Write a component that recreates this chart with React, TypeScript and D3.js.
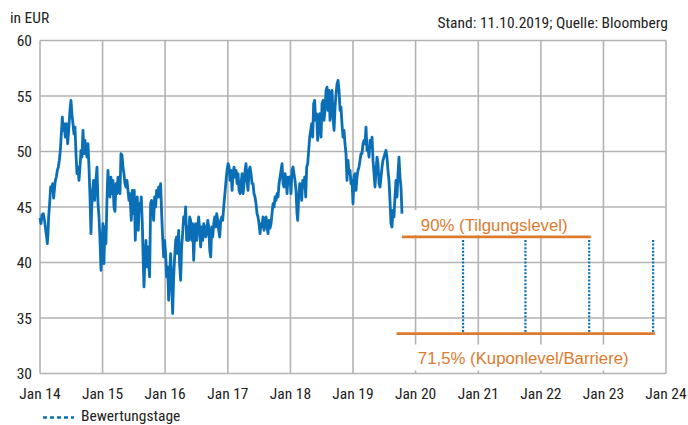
import React from "react";
import * as d3 from "d3";

// ---- Data ----
// Share price history: [decimal year, price in EUR]
const priceHistory: [number, number][] = [
  [2014.000, 44.0], [2014.016, 43.5], [2014.032, 44.3], [2014.053, 44.4], [2014.075, 43.7], [2014.091, 42.9],
  [2014.106, 42.3], [2014.117, 41.7], [2014.128, 42.6], [2014.138, 44.1], [2014.154, 45.3], [2014.170, 46.8],
  [2014.186, 46.5], [2014.202, 47.1], [2014.218, 45.8], [2014.229, 46.5], [2014.245, 47.4], [2014.261, 47.7],
  [2014.277, 48.3], [2014.293, 48.6], [2014.309, 49.2], [2014.325, 50.1], [2014.341, 51.6], [2014.357, 53.1],
  [2014.367, 51.9], [2014.383, 52.5], [2014.405, 51.3], [2014.421, 52.5], [2014.442, 50.7], [2014.458, 51.9],
  [2014.479, 53.7], [2014.495, 54.6], [2014.511, 53.3], [2014.527, 52.5], [2014.543, 51.6], [2014.559, 52.2],
  [2014.575, 49.8], [2014.591, 48.0], [2014.607, 48.6], [2014.623, 47.4], [2014.639, 48.6], [2014.655, 50.1],
  [2014.671, 49.5], [2014.687, 51.9], [2014.703, 49.8], [2014.719, 51.0], [2014.735, 50.1], [2014.751, 49.5],
  [2014.767, 50.7], [2014.783, 48.6], [2014.799, 45.9], [2014.815, 42.6], [2014.825, 44.7], [2014.841, 46.5],
  [2014.857, 47.4], [2014.873, 45.6], [2014.889, 47.1], [2014.911, 48.6], [2014.927, 45.3], [2014.943, 44.1],
  [2014.959, 42.0], [2014.975, 39.3], [2014.990, 41.4], [2015.006, 43.5], [2015.022, 39.9], [2015.038, 43.2],
  [2015.054, 41.7], [2015.070, 45.6], [2015.086, 48.3], [2015.102, 46.5], [2015.118, 45.9], [2015.134, 47.7],
  [2015.150, 46.2], [2015.166, 47.4], [2015.182, 45.0], [2015.198, 44.6], [2015.214, 47.1], [2015.230, 46.2],
  [2015.246, 47.7], [2015.262, 46.5], [2015.278, 46.2], [2015.294, 49.8], [2015.310, 49.7], [2015.326, 48.6],
  [2015.342, 48.0], [2015.358, 47.1], [2015.374, 46.8], [2015.390, 47.4], [2015.406, 46.5], [2015.422, 45.6],
  [2015.438, 46.2], [2015.459, 43.8], [2015.475, 46.5], [2015.491, 44.4], [2015.507, 46.5], [2015.523, 42.0],
  [2015.539, 45.0], [2015.555, 45.9], [2015.571, 42.9], [2015.587, 45.3], [2015.603, 44.7], [2015.619, 45.9],
  [2015.635, 43.5], [2015.651, 39.9], [2015.662, 37.8], [2015.678, 40.5], [2015.694, 42.0], [2015.704, 39.6],
  [2015.720, 41.4], [2015.736, 39.9], [2015.752, 38.7], [2015.768, 45.3], [2015.784, 45.6], [2015.800, 45.0],
  [2015.816, 43.8], [2015.832, 45.9], [2015.848, 45.0], [2015.864, 46.5], [2015.880, 45.9], [2015.896, 46.8],
  [2015.912, 45.9], [2015.928, 47.1], [2015.944, 44.4], [2015.960, 42.3], [2015.976, 40.5], [2015.992, 42.0],
  [2016.008, 40.8], [2016.024, 38.7], [2016.040, 39.6], [2016.056, 36.6], [2016.072, 39.0], [2016.088, 40.8],
  [2016.104, 38.1], [2016.120, 35.4], [2016.136, 38.7], [2016.152, 40.5], [2016.168, 42.0], [2016.184, 42.3],
  [2016.199, 40.8], [2016.215, 42.9], [2016.231, 39.9], [2016.247, 38.4], [2016.263, 41.4], [2016.279, 42.6],
  [2016.295, 44.1], [2016.311, 43.5], [2016.327, 45.0], [2016.343, 42.0], [2016.359, 43.2], [2016.375, 42.0],
  [2016.391, 44.1], [2016.407, 43.8], [2016.423, 42.0], [2016.439, 43.5], [2016.455, 40.2], [2016.471, 42.6],
  [2016.487, 43.5], [2016.503, 42.0], [2016.519, 43.2], [2016.535, 44.1], [2016.551, 42.9], [2016.567, 41.4],
  [2016.583, 43.2], [2016.599, 42.0], [2016.615, 43.5], [2016.631, 43.2], [2016.647, 42.3], [2016.663, 42.6],
  [2016.679, 43.8], [2016.695, 43.2], [2016.711, 41.1], [2016.727, 40.5], [2016.743, 43.2], [2016.759, 42.3],
  [2016.775, 43.5], [2016.791, 44.1], [2016.807, 43.2], [2016.822, 44.4], [2016.838, 43.8], [2016.854, 42.9],
  [2016.870, 42.3], [2016.886, 43.8], [2016.902, 44.1], [2016.918, 43.8], [2016.934, 45.0], [2016.971, 47.4],
  [2016.987, 48.3], [2017.003, 48.9], [2017.019, 48.6], [2017.035, 47.4], [2017.051, 48.3], [2017.067, 46.5],
  [2017.083, 48.0], [2017.099, 48.6], [2017.115, 47.7], [2017.131, 48.3], [2017.147, 47.1], [2017.163, 48.0],
  [2017.179, 46.5], [2017.195, 46.2], [2017.211, 47.1], [2017.227, 48.0], [2017.243, 46.2], [2017.259, 47.1],
  [2017.275, 48.3], [2017.290, 48.9], [2017.306, 47.4], [2017.322, 46.5], [2017.338, 48.3], [2017.354, 48.6],
  [2017.370, 48.0], [2017.386, 47.1], [2017.402, 47.1], [2017.418, 46.2], [2017.434, 45.9], [2017.450, 45.3],
  [2017.466, 44.4], [2017.482, 44.1], [2017.498, 43.5], [2017.514, 42.6], [2017.530, 43.5], [2017.546, 43.2],
  [2017.562, 44.1], [2017.578, 42.9], [2017.594, 43.5], [2017.610, 44.1], [2017.626, 43.2], [2017.642, 42.6],
  [2017.658, 43.8], [2017.674, 43.1], [2017.690, 43.5], [2017.706, 44.4], [2017.722, 45.3], [2017.738, 45.0],
  [2017.754, 45.9], [2017.770, 45.6], [2017.786, 46.2], [2017.802, 45.9], [2017.818, 47.1], [2017.834, 47.7],
  [2017.850, 48.3], [2017.866, 48.9], [2017.882, 47.1], [2017.898, 46.8], [2017.914, 48.0], [2017.930, 47.4],
  [2017.946, 46.2], [2017.961, 47.7], [2017.977, 47.1], [2017.993, 47.7], [2018.009, 46.2], [2018.025, 48.3],
  [2018.041, 48.6], [2018.057, 48.0], [2018.073, 47.4], [2018.089, 46.5], [2018.105, 44.4], [2018.116, 43.8],
  [2018.132, 45.9], [2018.148, 47.1], [2018.164, 46.5], [2018.180, 45.6], [2018.196, 47.4], [2018.212, 46.8],
  [2018.228, 47.7], [2018.244, 45.9], [2018.260, 48.6], [2018.276, 48.9], [2018.292, 50.1], [2018.308, 51.3],
  [2018.324, 51.9], [2018.340, 52.5], [2018.356, 51.3], [2018.371, 54.3], [2018.387, 54.6], [2018.403, 52.8],
  [2018.419, 53.4], [2018.435, 51.0], [2018.451, 52.5], [2018.467, 53.4], [2018.489, 51.3], [2018.505, 54.3],
  [2018.521, 54.6], [2018.537, 52.8], [2018.553, 53.7], [2018.569, 55.5], [2018.585, 55.8], [2018.601, 53.7],
  [2018.617, 55.5], [2018.633, 52.8], [2018.649, 54.9], [2018.665, 55.5], [2018.681, 53.1], [2018.697, 51.9],
  [2018.713, 54.0], [2018.729, 55.2], [2018.745, 56.1], [2018.761, 56.4], [2018.777, 55.5], [2018.793, 53.7],
  [2018.808, 54.0], [2018.824, 52.5], [2018.840, 51.3], [2018.856, 51.9], [2018.872, 50.7], [2018.888, 49.8],
  [2018.904, 47.4], [2018.920, 49.2], [2018.936, 48.0], [2018.952, 48.3], [2018.968, 47.1], [2018.984, 47.4],
  [2019.000, 45.3], [2019.016, 47.7], [2019.032, 48.0], [2019.048, 46.5], [2019.064, 47.7], [2019.080, 48.3],
  [2019.096, 48.6], [2019.112, 49.2], [2019.128, 49.8], [2019.144, 49.8], [2019.160, 50.7], [2019.176, 51.0],
  [2019.192, 50.7], [2019.208, 52.2], [2019.224, 50.1], [2019.240, 50.4], [2019.256, 49.5], [2019.272, 51.0],
  [2019.288, 50.4], [2019.304, 51.3], [2019.320, 49.2], [2019.336, 48.0], [2019.352, 46.8], [2019.368, 48.3],
  [2019.384, 49.5], [2019.400, 48.9], [2019.416, 47.1], [2019.432, 46.8], [2019.448, 47.7], [2019.464, 48.6],
  [2019.479, 49.2], [2019.495, 49.5], [2019.511, 49.8], [2019.527, 50.1], [2019.543, 49.5], [2019.559, 48.3],
  [2019.575, 47.4], [2019.591, 45.6], [2019.607, 43.5], [2019.623, 43.2], [2019.639, 44.7], [2019.655, 44.1],
  [2019.671, 45.9], [2019.687, 47.4], [2019.703, 45.9], [2019.719, 48.0], [2019.735, 49.5], [2019.751, 47.7],
  [2019.767, 46.8], [2019.783, 44.4],
];

const yTicks = [30, 35, 40, 45, 50, 55, 60];
const xTickYears = [2014, 2015, 2016, 2017, 2018, 2019, 2020, 2021, 2022, 2023, 2024];

const redemptionLevel = 42.3; // 90% (Tilgungslevel)
const redemptionPeriod = ["2019-10-13", "2022-10-19"];
const couponLevel = 33.6; // 71,5% (Kuponlevel/Barriere)
const couponPeriod = ["2019-09-12", "2023-10-28"];
const valuationDates = ["2020-10-04", "2021-10-03", "2022-10-10", "2023-10-18"];

const labelRedemption = "90% (Tilgungslevel)";
const labelCoupon = "71,5% (Kuponlevel/Barriere)";
const unitLabel = "in EUR";
const sourceLabel = "Stand: 11.10.2019; Quelle: Bloomberg";
const legendLabel = "Bewertungstage";

// ---- Styling ----
const W = 688;
const H = 425;
const margin = { left: 40, right: 22, top: 40.5, bottom: 51.5 };
const BLUE = "#0a6fb6";
const ORANGE = "#dc7b2e";
const GRID = "#b3b3b3";
const TEXT = "#222222";
const NARROW = "'Liberation Sans Narrow', 'Arial Narrow', 'Roboto Condensed', 'DejaVu Sans Condensed', sans-serif";
const REGULAR = "'Liberation Sans', Arial, sans-serif";
const FS = 15.5;

const toDate = (t: number) => {
  const y = Math.floor(t);
  const s = new Date(y, 0, 1).getTime();
  const e = new Date(y + 1, 0, 1).getTime();
  return new Date(s + (t - y) * (e - s));
};
const parse = (s: string) => {
  const [y, m, d] = s.split("-").map(Number);
  return new Date(y, m - 1, d);
};

export default function App() {
  const x = d3
    .scaleTime()
    .domain([new Date(2014, 0, 1), new Date(2024, 0, 1)])
    .range([margin.left, W - margin.right]);
  const y = d3
    .scaleLinear()
    .domain([30, 60])
    .range([H - margin.bottom, margin.top]);

  const line = d3
    .line<[number, number]>()
    .x((d) => x(toDate(d[0])))
    .y((d) => y(d[1]));

  const fmt = d3.timeFormat("%b %y");
  const x0 = x.range()[0];
  const x1 = x.range()[1];
  const y0 = y.range()[0];
  const y1 = y.range()[1];

  const rStart = x(parse(redemptionPeriod[0]));
  const rEnd = x(parse(redemptionPeriod[1]));
  const cStart = x(parse(couponPeriod[0]));
  const cEnd = x(parse(couponPeriod[1]));
  const rY = y(redemptionLevel);
  const cY = y(couponLevel);

  return (
    <svg
      width={W}
      height={H}
      style={{ position: "absolute", left: 0, top: 0, background: "#fff" }}
    >
      <rect x={0} y={0} width={W} height={H} fill="#fff" />
      {/* gridlines */}
      {yTicks.map((v) => (
        <line key={"gy" + v} x1={x0} x2={x1} y1={y(v)} y2={y(v)} stroke={GRID} strokeWidth={1.6} />
      ))}
      {xTickYears.map((yr) => (
        <line
          key={"gx" + yr}
          x1={x(new Date(yr, 0, 1))}
          x2={x(new Date(yr, 0, 1))}
          y1={y0}
          y2={y1}
          stroke={GRID}
          strokeWidth={1.6}
        />
      ))}

      {/* label backgrounds */}
      <rect x={rStart + 7} y={rY - 27} width={167} height={25} fill="#fff" />
      <rect x={rStart + 10} y={cY + 11} width={228} height={26} fill="#fff" />

      {/* price line */}
      <path
        d={line(priceHistory) || ""}
        fill="none"
        stroke={BLUE}
        strokeWidth={2.8}
        strokeLinejoin="round"
      />

      {/* valuation days */}
      {valuationDates.map((d) => (
        <line
          key={d}
          x1={x(parse(d))}
          x2={x(parse(d))}
          y1={rY + 3}
          y2={cY}
          stroke={BLUE}
          strokeWidth={2.2}
          strokeDasharray="2,1.6"
        />
      ))}

      {/* levels */}
      <line x1={rStart} x2={rEnd} y1={rY} y2={rY} stroke={ORANGE} strokeWidth={2.8} />
      <line x1={cStart} x2={cEnd} y1={cY} y2={cY} stroke={ORANGE} strokeWidth={2.8} />
      <text x={rStart + 19} y={rY - 6} fill={ORANGE} fontFamily={REGULAR} fontSize={16.8}>
        {labelRedemption}
      </text>
      <text x={rStart + 16} y={cY + 30} fill={ORANGE} fontFamily={REGULAR} fontSize={16.8}>
        {labelCoupon}
      </text>

      {/* axis labels */}
      {yTicks.map((v) => (
        <text
          key={"ty" + v}
          x={32}
          y={y(v)}
          dy="0.36em"
          textAnchor="end"
          fill={TEXT}
          fontFamily={NARROW}
          fontSize={FS}
        >
          {v}
        </text>
      ))}
      {xTickYears.map((yr) => (
        <text
          key={"tx" + yr}
          x={x(new Date(yr, 0, 1))}
          y={398.5}
          textAnchor="middle"
          fill={TEXT}
          fontFamily={NARROW}
          fontSize={FS}
        >
          {fmt(new Date(yr, 0, 1))}
        </text>
      ))}

      <text x={10} y={23} fill={TEXT} fontFamily={NARROW} fontSize={FS}>
        {unitLabel}
      </text>
      <text x={668} y={27.5} textAnchor="end" fill={TEXT} fontFamily={NARROW} fontSize={FS}>
        {sourceLabel}
      </text>

      {/* legend */}
      <line x1={43} x2={74} y1={417.5} y2={417.5} stroke={BLUE} strokeWidth={2.6} strokeDasharray="4,3" />
      <text x={81} y={421} fill={TEXT} fontFamily={NARROW} fontSize={FS}>
        {legendLabel}
      </text>
    </svg>
  );
}
